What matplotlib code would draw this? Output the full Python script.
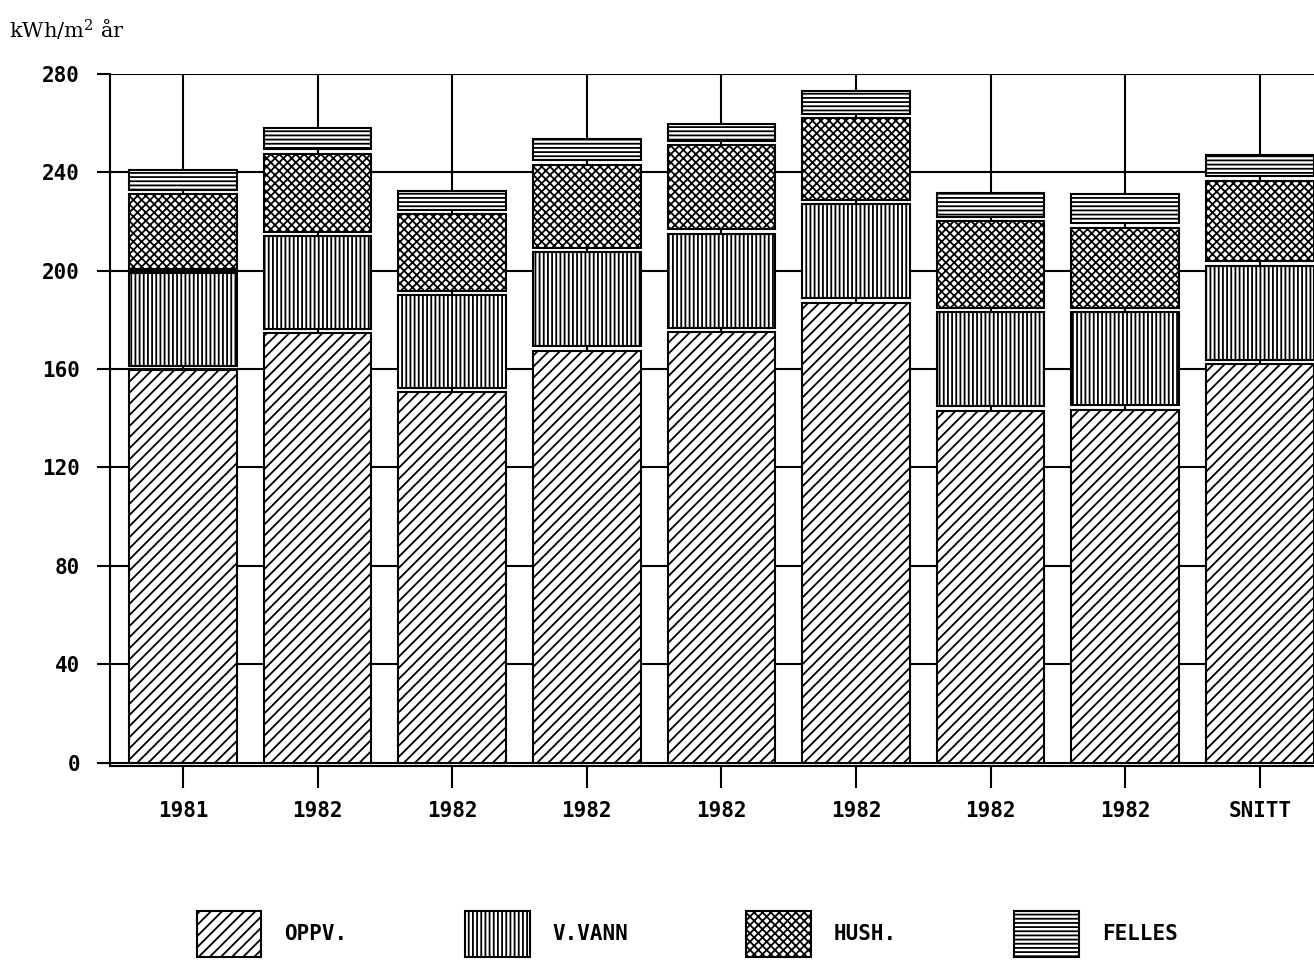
import matplotlib
matplotlib.use("Agg")
from matplotlib import pyplot as plt, patches
import numpy as np

# Data (kWh/m2 per year)
categories = ['1981', '1982', '1982', '1982', '1982', '1982', '1982', '1982', 'SNITT']
oppv = [159.5, 174.5, 150.5, 167.5, 175.0, 187.0, 143.0, 143.5, 162.0]
vvann = [39.5, 39.5, 39.5, 40.0, 40.0, 40.0, 40.0, 39.5, 40.0]
hush = [32.0, 33.5, 33.0, 35.5, 36.0, 35.0, 37.0, 34.5, 34.5]
felles = [10.0, 10.5, 9.5, 10.5, 8.5, 11.0, 11.5, 13.5, 10.5]
series_names = ['OPPV.', 'V.VANN', 'HUSH.', 'FELLES']
hatches = ['///', '||||', 'xxxx', '----']
y_ticks = [0, 40, 80, 120, 160, 200, 240, 280]

plt.rcParams['hatch.linewidth'] = 1.3
plt.rcParams['mathtext.fontset'] = 'dejavuserif'

fig = plt.figure(figsize=(13.14, 9.6), dpi=100)
ax = fig.add_axes([0.0837, 0.2016, 0.9163, 0.7214])

x = np.arange(len(categories))
width = 0.8
gap = 1.8

# Grid: horizontal lines at each tick, vertical lines through bar centres
for yv in y_ticks:
    ax.axhline(yv, color='black', lw=1.5, zorder=0)
ax.vlines(x, 0, 280, color='black', lw=1.5, zorder=0)

# Stacked bars with small white gaps between segments
cum = np.zeros(len(categories))
for k, vals in enumerate([oppv, vvann, hush, felles]):
    vals = np.array(vals)
    off = 0 if k == 0 else gap
    ax.bar(x, vals - off, width, bottom=cum + off, color='white',
           edgecolor='black', hatch=hatches[k], linewidth=1.5, zorder=2)
    cum = cum + vals

ax.set_xlim(-0.542, 8.403)
ax.set_ylim(-1.6, 280)

ax.spines['top'].set_visible(False)
ax.spines['right'].set_visible(False)
ax.spines['left'].set_linewidth(1.5)
ax.spines['bottom'].set_linewidth(1.5)

ax.set_yticks(y_ticks)
ax.set_yticklabels([str(v) for v in y_ticks])
ax.set_xticks(x)
ax.set_xticklabels(categories)
ax.tick_params(axis='y', length=9.5, width=1.5, pad=12)
ax.tick_params(axis='x', length=16, width=1.5, pad=9)
for lab in ax.get_xticklabels() + ax.get_yticklabels():
    lab.set_fontfamily('DejaVu Sans Mono')
    lab.set_fontweight('bold')
    lab.set_fontsize(15)

fig.text(0.007, 0.968, r'kWh/m$^2$ år', family='DejaVu Serif', fontsize=15,
         ha='left', va='center')

# Legend along the bottom
handles = [patches.Patch(facecolor='white', edgecolor='black', hatch=h, lw=1.5)
           for h in hatches]
leg = fig.legend(handles, series_names, loc='center', bbox_to_anchor=(0.523, 0.027),
                 ncol=4, frameon=False, handlelength=3.1, handleheight=3.0,
                 handletextpad=1.1, columnspacing=5.65,
                 prop={'family': 'DejaVu Sans Mono', 'weight': 'bold', 'size': 15})

fig.savefig('out.png', dpi=100)
